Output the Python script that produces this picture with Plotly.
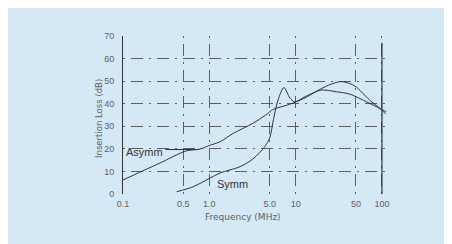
import plotly.graph_objects as go

# Data
asymm_f = [0.1, 0.2, 0.3, 0.4, 0.55, 0.78, 1.0, 1.34, 1.9, 3.2, 4.5, 5.5, 8, 10, 13, 17, 24, 33, 42, 50, 72, 95, 110]
asymm_db = [6.2, 11.5, 14.6, 17, 19.2, 19.9, 21.5, 23.2, 26.9, 31.3, 35, 37.5, 39.4, 40.8, 43.2, 45.3, 48.2, 49.8, 49, 47.5, 41.6, 37.9, 35.5]

symm_f = [0.42, 0.65, 1.0, 1.33, 2.27, 3.2, 4.4, 5.0, 5.6, 6.25, 7.3, 8.6, 9.8, 13.4, 19.2, 29.9, 42.7, 66.6, 87, 112]
symm_db = [1, 3.2, 6.9, 9.3, 12.1, 15.5, 21, 24.8, 34, 41.6, 47.2, 42.5, 40.8, 43, 46, 45.3, 44.2, 40.8, 38.6, 36.4]

x_ticks = [0.1, 0.5, 1, 5, 10, 50, 100]
x_tick_text = ["0.1", "0.5", "1.0", "5.0", "10", "50", "100"]
y_ticks = [0, 10, 20, 30, 40, 50, 60, 70]

BG = "#d5e8f5"
INK = "#333333"
GRAY = "#5f5f5f"
FONT = "Liberation Sans"
NARROW = "Liberation Sans Narrow, Liberation Sans"
WIDE = "DejaVu Sans"

# page has an 8px body margin; figure sized to fit the window
W, H = 444, 236
L, R, T, B = 115, 64, 28, 50
pw, ph = W - L - R, H - T - B
OFF = 8

def sx(px):  # screen px -> paper x
    return (px - OFF - L) / pw

def sy(py):  # screen px -> paper y
    return (H - B - (py - OFF)) / ph

fig = go.Figure()
fig.add_trace(go.Scatter(x=asymm_f, y=asymm_db, mode="lines", name="Asymm",
                         line=dict(color=INK, width=1, shape="spline", smoothing=0.8)))
fig.add_trace(go.Scatter(x=symm_f, y=symm_db, mode="lines", name="Symm",
                         line=dict(color=INK, width=1, shape="spline", smoothing=0.8)))

# solid line at 100 MHz
fig.add_shape(type="line", xref="x", yref="y", x0=100, x1=100, y0=0, y1=67,
              line=dict(color=INK, width=1.2))
# leader line for Asymm label
fig.add_shape(type="line", xref="x", yref="y", x0=0.31, x1=0.75, y0=19.7, y1=19.7,
              line=dict(color=INK, width=1))

fig.add_annotation(x=-1, y=18.8, xref="x", yref="y", text="Asymm", showarrow=False,
                   xanchor="left", xshift=1, font=dict(family=FONT, size=11, color=INK))
fig.add_annotation(x=0.07, y=4.4, xref="x", yref="y", text="Symm", showarrow=False,
                   xanchor="left", font=dict(family=FONT, size=11, color=INK))
fig.add_annotation(x=sx(243), y=sy(217), xref="paper", yref="paper",
                   xanchor="center", yanchor="middle",
                   text="Frequency (MHz)", showarrow=False,
                   font=dict(family=WIDE, size=9, color=GRAY))
fig.add_annotation(x=sx(99), y=sy(119), xref="paper", yref="paper",
                   xanchor="center", yanchor="middle",
                   text="Insertion Loss (dB)", showarrow=False, textangle=-90,
                   font=dict(family=WIDE, size=8.5, color=GRAY))

grid_dash = "2px,6px,12px,6px"
fig.update_xaxes(type="log", range=[-1, 2.07], tickvals=x_ticks, ticktext=x_tick_text,
                 showgrid=True, gridcolor=GRAY, gridwidth=1, griddash=grid_dash,
                 showline=False, zeroline=False, ticks="outside", ticklen=1,
                 tickcolor="rgba(0,0,0,0)",
                 tickfont=dict(family=NARROW, size=9, color=GRAY))
fig.update_yaxes(range=[0, 70], tickvals=y_ticks,
                 showgrid=True, gridcolor=GRAY, gridwidth=1, griddash=grid_dash,
                 showline=True, linecolor=INK, linewidth=1, zeroline=False,
                 ticks="outside", ticklen=6, tickcolor="rgba(0,0,0,0)",
                 tickfont=dict(family=NARROW, size=9, color=GRAY))

fig.update_layout(width=W, height=H, margin=dict(l=L, r=R, t=T, b=B),
                  paper_bgcolor=BG, plot_bgcolor="rgba(0,0,0,0)",
                  showlegend=False)

fig.write_html("out.html")
